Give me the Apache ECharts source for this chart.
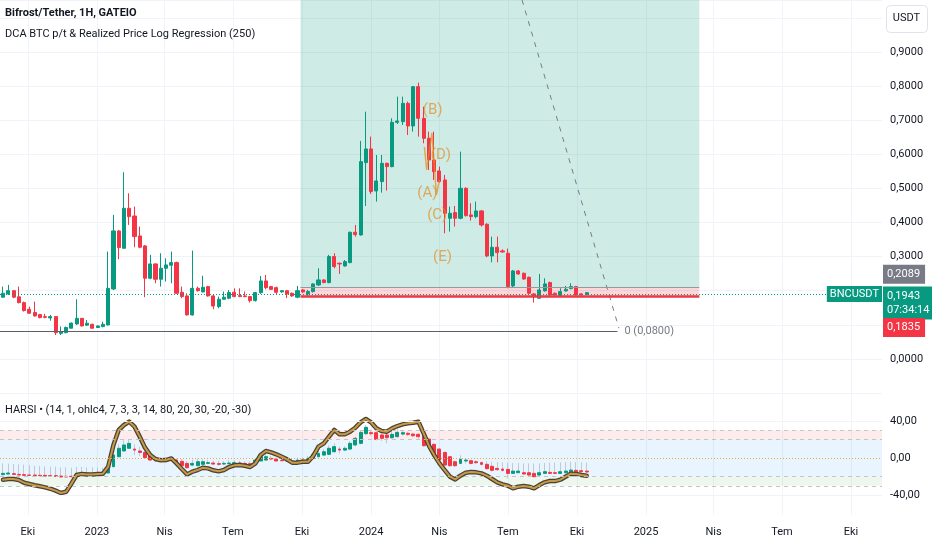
<!DOCTYPE html>
<html lang="tr">
<head>
    <meta charset="UTF-8">
    <title>Bifrost/Tether, 1H, GATEIO</title>
    <script src="https://cdn.jsdelivr.net/npm/echarts@6/dist/echarts.min.js"></script>
    <style>
        html, body { margin: 0; padding: 0; background: #ffffff; }
        #chart { width: 932px; height: 550px; }
    </style>
</head>
<body>
    <div id="chart"></div>

    <script>
        const FONT = "Roboto, 'Liberation Sans', sans-serif";
        const UP = '#089981';
        const DOWN = '#f23645';

        // weekly candles, the first week opens on Monday 2022-08-29
        const opens = [
            0.181, 0.1906, 0.200, 0.182, 0.165, 0.1456, 0.136, 0.130, 0.124, 0.120,
            0.124, 0.075, 0.077, 0.090, 0.1026, 0.119, 0.099, 0.1016, 0.092, 0.0948,
            0.0997, 0.205, 0.3753, 0.3244, 0.4417, 0.419, 0.3606, 0.3313, 0.2365, 0.2785,
            0.2336, 0.2658, 0.2746, 0.2824, 0.1954, 0.1847, 0.129, 0.207, 0.1964, 0.212,
            0.1847, 0.1534, 0.175, 0.178, 0.1954, 0.1857, 0.1847, 0.1827, 0.171, 0.1945,
            0.2287, 0.212, 0.209, 0.1964, 0.200, 0.1925, 0.181, 0.2023, 0.1906, 0.1974,
            0.2169, 0.2316, 0.2238, 0.300, 0.2805, 0.2726, 0.2824, 0.3713, 0.3635, 0.5756,
            0.6157, 0.4925, 0.5199, 0.5736, 0.5639, 0.6938, 0.6958, 0.7495, 0.6831, 0.7984,
            0.7056, 0.6469, 0.5834, 0.5512, 0.5248, 0.4124, 0.429, 0.4124, 0.5003, 0.4222,
            0.4173, 0.4339, 0.3948, 0.302, 0.3274, 0.3166, 0.3098, 0.214, 0.258, 0.2511,
            0.2394, 0.1906, 0.1779, 0.1994, 0.2238, 0.1925, 0.1847, 0.1994, 0.2062, 0.212,
            0.1906, 0.1896
        ];
        const highs = [
            0.212, 0.217, 0.202, 0.212, 0.168, 0.1534, 0.168, 0.132, 0.132, 0.129,
            0.124, 0.095, 0.095, 0.1065, 0.175, 0.119, 0.114, 0.103, 0.098, 0.109,
            0.3147, 0.4222, 0.3782, 0.5473, 0.4857, 0.4466, 0.388, 0.334, 0.305, 0.280,
            0.3098, 0.295, 0.3147, 0.2853, 0.212, 0.1925, 0.3176, 0.212, 0.244, 0.214,
            0.1876, 0.1827, 0.1974, 0.202, 0.207, 0.207, 0.1974, 0.1847, 0.1964, 0.243,
            0.246, 0.214, 0.212, 0.202, 0.202, 0.1945, 0.214, 0.205, 0.2023, 0.2218,
            0.2658, 0.2336, 0.305, 0.3098, 0.2824, 0.290, 0.3733, 0.3928, 0.6391, 0.7251,
            0.6518, 0.5981, 0.5981, 0.5756, 0.7056, 0.7691, 0.7691, 0.7544, 0.8004, 0.8102,
            0.7398, 0.6665, 0.6665, 0.5639, 0.5394, 0.4466, 0.4485, 0.6078, 0.5033, 0.4564,
            0.4613, 0.4368, 0.3977, 0.3586, 0.3586, 0.3215, 0.3235, 0.2609, 0.2609, 0.2531,
            0.2414, 0.1925, 0.2492, 0.2365, 0.2267, 0.1945, 0.2072, 0.214, 0.2218, 0.214,
            0.1925, 0.1945
        ];
        const lows = [
            0.180, 0.1876, 0.178, 0.163, 0.1388, 0.132, 0.124, 0.119, 0.119, 0.112,
            0.070, 0.070, 0.075, 0.090, 0.0997, 0.0948, 0.0967, 0.089, 0.091, 0.0928,
            0.0977, 0.202, 0.2922, 0.3244, 0.3929, 0.3274, 0.3244, 0.181, 0.2336, 0.2218,
            0.212, 0.2267, 0.2218, 0.1906, 0.178, 0.127, 0.127, 0.1974, 0.195, 0.1827,
            0.1456, 0.1485, 0.173, 0.175, 0.181, 0.181, 0.181, 0.1652, 0.168, 0.1906,
            0.204, 0.202, 0.1906, 0.1945, 0.178, 0.182, 0.178, 0.194, 0.1827, 0.1945,
            0.214, 0.222, 0.2218, 0.2658, 0.2492, 0.2707, 0.2805, 0.3586, 0.3616, 0.4485,
            0.4837, 0.4613, 0.4876, 0.4935, 0.5619, 0.6889, 0.686, 0.6567, 0.6665, 0.6518,
            0.6323, 0.5541, 0.5248, 0.5169, 0.3684, 0.3733, 0.388, 0.4095, 0.4173, 0.4055,
            0.4124, 0.388, 0.298, 0.2834, 0.2834, 0.3117, 0.2072, 0.2101, 0.2463, 0.2316,
            0.1876, 0.1652, 0.1779, 0.1974, 0.1847, 0.1857, 0.1827, 0.1974, 0.2042, 0.1847,
            0.1857, 0.1876
        ];
        const closes = [
            0.1925, 0.200, 0.181, 0.165, 0.1417, 0.134, 0.126, 0.121, 0.122, 0.124,
            0.077, 0.080, 0.092, 0.105, 0.119, 0.0967, 0.1046, 0.090, 0.0967, 0.1016,
            0.207, 0.3753, 0.3264, 0.4417, 0.4173, 0.3586, 0.3274, 0.2365, 0.2785, 0.2336,
            0.2658, 0.2756, 0.2824, 0.1925, 0.1827, 0.129, 0.207, 0.200, 0.210, 0.1847,
            0.155, 0.175, 0.181, 0.1945, 0.1827, 0.1827, 0.1827, 0.171, 0.1945, 0.2287,
            0.209, 0.204, 0.1954, 0.200, 0.1906, 0.1847, 0.200, 0.1964, 0.1974, 0.2199,
            0.2316, 0.2238, 0.300, 0.2707, 0.2785, 0.2853, 0.3713, 0.3645, 0.5785, 0.6157,
            0.4906, 0.5218, 0.5736, 0.5639, 0.6938, 0.6977, 0.7495, 0.6831, 0.7984, 0.7056,
            0.6469, 0.5834, 0.5492, 0.5199, 0.4271, 0.4271, 0.4124, 0.5003, 0.4202, 0.4173,
            0.4339, 0.3928, 0.302, 0.3274, 0.3117, 0.3137, 0.2121, 0.258, 0.2492, 0.2345,
            0.1925, 0.1827, 0.2023, 0.2199, 0.1876, 0.1876, 0.1974, 0.2042, 0.212, 0.1876,
            0.1876, 0.1943
        ];

        // HARSI pane (heikin ashi RSI candles + RSI line)
        const haOpen = [
            -18.0, -17.3, -16.9, -17.7, -18.0, -18.4, -18.4, -18.7, -18.7, -19.1,
            -19.1, -19.5, -19.8, -19.8, -18.4, -17.3, -16.9, -16.6, -17.3, -16.9,
            -16.2, -9.4, 1.4, 7.6, 10.5, 9.7, 7.6, 6.1, 2.5, -1.1,
            -2.9, -2.5, -1.1, -2.2, -3.6, -5.8, -7.6, -8.3, -6.8, -5.8,
            -5.4, -6.1, -6.5, -6.1, -6.8, -5.4, -5.8, -6.1, -6.1, -3.2,
            -2.2, -0.4, -1.1, -2.5, -2.9, -3.2, -5.0, -4.0, -3.2, -0.4,
            1.4, 3.2, 4.0, 6.8, 9.7, 8.6, 9.7, 14.1, 15.9, 26.3,
            27.4, 27.4, 24.9, 24.9, 22.0, 23.1, 25.9, 26.7, 25.9, 25.6,
            25.6, 20.5, 14.8, 9.7, 6.1, 1.4, -4.0, -5.8, -3.2, -2.9,
            -4.0, -5.0, -6.8, -9.0, -11.2, -11.9, -12.3, -16.6, -15.9, -15.9,
            -15.9, -16.6, -18.4, -16.6, -15.5, -15.9, -16.6, -15.9, -14.8, -13.3,
            -13.7, -14.1
        ];
        const haClose = [
            -16.6, -16.2, -17.7, -18.4, -18.7, -18.7, -19.1, -19.1, -19.5, -19.5,
            -19.8, -20.5, -20.5, -20.2, -16.6, -16.2, -16.2, -17.3, -16.6, -15.5,
            -9.4, 3.2, 10.5, 14.1, 15.9, 8.6, 6.1, 0.4, -2.2, -2.9,
            -1.8, -1.1, -2.2, -5.8, -8.3, -10.5, -5.8, -4.0, -4.0, -5.0,
            -6.5, -6.8, -5.8, -5.4, -5.0, -5.8, -7.6, -8.3, -2.2, 1.4,
            1.4, -1.1, -3.2, -2.9, -3.2, -4.0, -2.2, -2.2, -0.4, 4.0,
            5.0, 6.8, 10.5, 12.3, 8.6, 10.5, 15.9, 21.3, 27.7, 33.2,
            26.3, 20.2, 21.3, 22.0, 25.6, 27.7, 27.4, 25.6, 24.1, 23.1,
            13.3, 13.3, 4.0, -2.2, -7.6, -8.3, -8.3, -1.4, -2.2, -5.8,
            -5.0, -6.8, -11.5, -13.3, -12.6, -13.3, -16.6, -14.1, -14.1, -17.3,
            -18.4, -20.2, -15.9, -14.8, -16.6, -16.6, -14.8, -14.1, -13.0, -14.8,
            -14.8, -15.1
        ];
        const haHigh = [
            -5.8, -6.1, -6.5, -6.8, -7.2, -7.6, -8.3, -8.6, -9.0, -9.4,
            -9.4, -10.1, -10.1, -10.5, -9.7, -9.7, -10.1, -10.1, -10.5, -10.5,
            -4.0, 7.6, 14.8, 19.1, 19.5, 14.8, 12.3, 9.7, 5.0, 1.4,
            1.1, 0.4, 0.0, -0.4, -1.1, -3.2, -1.8, -0.7, -1.1, -2.2,
            -2.9, -2.9, -3.2, -2.2, -2.5, -2.9, -3.6, -3.6, -0.4, 3.6,
            4.3, 2.2, 0.7, 0.4, -0.4, -0.7, 0.4, 0.7, 2.2, 6.1,
            7.6, 9.7, 13.7, 15.9, 12.3, 12.6, 18.4, 23.1, 30.0, 35.7,
            30.6, 29.2, 26.7, 26.3, 28.5, 35.7, 30.3, 28.5, 27.4, 26.7,
            27.4, 21.3, 15.9, 10.5, 6.8, 2.2, -2.9, 3.2, -1.1, -1.8,
            -2.5, -3.6, -3.6, -4.0, -4.3, -4.7, -5.0, -5.4, -5.4, -5.8,
            -5.8, -6.1, -5.8, -5.4, -5.0, -5.0, -4.7, -4.3, -4.0, -4.3,
            -4.7, -5.0
        ];
        const haLow = [
            -18.0, -17.3, -17.7, -18.4, -18.7, -18.7, -19.1, -19.1, -19.5, -19.5,
            -19.8, -20.5, -20.5, -20.2, -18.4, -17.3, -16.9, -17.3, -17.3, -16.9,
            -16.2, -9.4, 1.4, 7.6, 10.5, 3.2, 2.2, -1.1, -2.9, -4.0,
            -4.0, -3.2, -3.2, -6.5, -9.0, -11.5, -9.0, -9.0, -8.3, -6.8,
            -7.6, -8.3, -7.2, -6.5, -7.2, -6.8, -8.3, -9.0, -6.8, -3.6,
            -2.5, -2.5, -3.6, -3.6, -4.0, -4.7, -5.4, -4.7, -3.6, -1.1,
            0.7, 2.5, 3.2, 5.8, 5.0, 7.6, 8.6, 12.6, 14.8, 25.2,
            24.1, 19.1, 18.4, 15.9, 20.5, 22.0, 24.5, 23.8, 22.0, 20.9,
            12.3, 10.8, 2.5, -3.6, -9.0, -9.7, -9.7, -6.8, -5.8, -7.2,
            -6.8, -8.3, -12.6, -14.8, -13.7, -14.8, -22.0, -16.9, -16.2, -18.0,
            -19.1, -20.9, -19.1, -17.3, -17.3, -17.3, -17.3, -16.6, -15.5, -15.5,
            -15.5, -15.9
        ];
        const rsi = [
            -23.4, -22.7, -22.7, -23.8, -26.7, -28.1, -29.5, -30.6, -31.7, -33.2,
            -35.3, -37.8, -36.4, -27.7, -18.4, -17.3, -17.7, -17.7, -17.3, -16.9,
            -9.4, 14.1, 30.3, 35.7, 39.3, 33.9, 23.1, 11.2, 3.2, -1.1,
            -2.5, -2.2, -0.4, -5.8, -11.9, -17.7, -14.8, -13.0, -10.5, -11.2,
            -13.3, -14.4, -13.0, -9.7, -7.9, -7.6, -8.3, -9.7, -5.8, 3.2,
            7.6, 6.1, 4.0, 1.4, -1.4, -5.0, -5.0, -4.0, -4.0, 2.2,
            12.3, 15.9, 23.1, 30.3, 25.6, 25.6, 28.5, 32.8, 38.6, 42.2,
            38.6, 32.1, 29.2, 28.5, 32.1, 34.6, 36.4, 37.5, 38.2, 39.3,
            26.7, 13.3, 3.2, -5.8, -13.0, -20.2, -23.1, -19.1, -15.9, -15.1,
            -15.5, -16.6, -19.1, -22.7, -26.3, -28.5, -29.9, -32.8, -31.0, -30.3,
            -31.0, -32.8, -29.2, -26.3, -24.9, -24.9, -23.4, -20.2, -16.9, -17.3,
            -18.4, -19.1
        ];

        // time axis
        const quarterTicks = [
            '2022-10-01', '2023-01-01', '2023-04-01', '2023-07-01', '2023-10-01', '2024-01-01', '2024-04-01',
            '2024-07-01', '2024-10-01', '2025-01-01', '2025-04-01', '2025-07-01', '2025-10-01'
        ];
        const quarterLabels = ['Eki', '2023', 'Nis', 'Tem', 'Eki', '2024', 'Nis', 'Tem', 'Eki', '2025', 'Nis', 'Tem', 'Eki'];
        const priceLabels = [0, 0.3, 0.4, 0.5, 0.6, 0.7, 0.8, 0.9];
        const harsiLabels = [-40, 0, 40];

        // drawings on the price pane
        const lastPrice = 0.1943;
        const targetPrice = 0.2089;
        const stopPrice = 0.1835;
        const regressionLevel = 0.08;
        const positionRange = ['2023-09-29', '2025-03-13'];
        const regressionEnd = '2024-11-24';
        const trendLine = [['2024-07-20', 1.0525], ['2024-11-26', 0.09]];
        const waveNames = ['(B)', '(D)', '(A)', '(C)', '(E)'];
        const waveDates = ['2024-03-23', '2024-04-03', '2024-03-16', '2024-03-29', '2024-04-05'];
        const waveValues = [0.730, 0.598, 0.487, 0.422, 0.299];
        const zigDates = ['2024-03-12', '2024-03-15', '2024-03-22', '2024-03-28', '2024-04-01'];
        const zigValues = [0.6215, 0.554, 0.6626, 0.4808, 0.5248];

        const day = s => {
            const [y, m, d] = s.split('-').map(Number);
            return new Date(y, m - 1, d).getTime();
        };
        const xMin = new Date(2022, 7, 24, 23).getTime();
        const xMax = new Date(2025, 10, 11, 5).getTime();
        const weekTimes = opens.map((_, i) => new Date(2022, 7, 29 + 7 * i).getTime());
        const tickTimes = quarterTicks.map(day);
        const comma = (v, n) => v.toFixed(n).replace('.', ',');

        const candles = opens.map((o, i) => [weekTimes[i], o, closes[i], lows[i], highs[i]]);
        const haBodies = haOpen.map((o, i) => [weekTimes[i], o, haClose[i], Math.min(o, haClose[i]), Math.max(o, haClose[i])]);
        const haWicks = haLow.map((l, i) => [weekTimes[i], l, l, l, haHigh[i]]);
        const rsiLine = rsi.map((v, i) => [weekTimes[i], v]);

        const chart = echarts.init(document.getElementById('chart'));

        // timestamps on a plain value axis, so the quarter ticks can be placed exactly
        const xAxisBase = (gridIndex, showLabels) => ({
            type: 'value',
            gridIndex: gridIndex,
            min: xMin,
            max: xMax,
            axisLine: { show: false },
            axisTick: { show: false, customValues: tickTimes },
            splitLine: { show: true, lineStyle: { color: '#f0f3fa' } },
            axisLabel: {
                show: showLabels,
                customValues: tickTimes,
                formatter: v => {
                    const k = tickTimes.indexOf(v);
                    return k >= 0 ? quarterLabels[k] : '';
                },
                color: '#131722',
                fontSize: 11,
                fontFamily: FONT,
                margin: 12
            }
        });

        const tag = (value, text, bg, offsetY) => ({
            yAxis: value,
            lineStyle: { color: 'rgba(0,0,0,0)', width: 0 },
            label: {
                show: true,
                position: 'end',
                distance: 1,
                offset: [0, offsetY],
                formatter: text,
                color: '#ffffff',
                backgroundColor: bg,
                padding: [3, 5, 2, 4],
                fontSize: 11,
                lineHeight: 14,
                fontFamily: FONT
            }
        });

        const option = {
            animation: false,
            backgroundColor: '#ffffff',
            title: [
                { text: 'Bifrost/Tether, 1H, GATEIO', left: 5, top: 8, padding: 0,
                  textStyle: { fontSize: 11, fontWeight: 'bold', color: '#131722', fontFamily: FONT } },
                { text: 'DCA BTC p/t & Realized Price Log Regression (250)', left: 5, top: 29, padding: 0,
                  textStyle: { fontSize: 11, fontWeight: 'normal', color: '#131722', fontFamily: FONT } },
                { text: 'HARSI • (14, 1, ohlc4, 7, 3, 3, 14, 80, 20, 30, -20, -30)', left: 5, top: 405, padding: 0,
                  textStyle: { fontSize: 11, fontWeight: 'normal', color: '#131722', fontFamily: FONT } }
            ],
            graphic: [
                { type: 'rect', left: 886, top: 5, shape: { width: 41, height: 27, r: 4 },
                  style: { fill: '#ffffff', stroke: '#e0e3eb', lineWidth: 1 } },
                { type: 'text', x: 906.5, y: 18.5,
                  style: { text: 'USDT', fill: '#131722', font: '11px ' + FONT, align: 'center', verticalAlign: 'middle' } }
            ],
            grid: [
                { left: 0, right: 50, top: 0, height: 393 },
                { left: 0, right: 50, top: 393, height: 122 }
            ],
            xAxis: [xAxisBase(0, false), xAxisBase(1, true)],
            yAxis: [
                {
                    type: 'value', gridIndex: 0, position: 'right',
                    min: -0.1, max: 1.0525, interval: 0.1,
                    axisLine: { show: false }, axisTick: { show: false },
                    splitLine: { show: true, lineStyle: { color: '#f0f3fa' } },
                    axisLabel: {
                        customValues: priceLabels,
                        formatter: v => comma(v, 4),
                        color: '#131722', fontSize: 11, fontFamily: FONT, margin: 8
                    }
                },
                {
                    type: 'value', gridIndex: 1, position: 'right',
                    min: -61.6, max: 70.3,
                    axisLine: { show: false }, axisTick: { show: false },
                    splitLine: { show: false },
                    axisLabel: {
                        customValues: harsiLabels,
                        formatter: v => comma(v, 2),
                        color: '#131722', fontSize: 11, fontFamily: FONT, margin: 8
                    }
                }
            ],
            series: [
                // long position box + regression level
                {
                    name: 'drawings', type: 'line', xAxisIndex: 0, yAxisIndex: 0, data: [], z: 1,
                    markArea: {
                        silent: true,
                        data: [
                            [{ coord: [day(positionRange[0]), targetPrice], itemStyle: { color: 'rgba(8,153,129,0.2)' } },
                             { coord: [day(positionRange[1]), 1.0525] }],
                            [{ coord: [day(positionRange[0]), stopPrice], itemStyle: { color: 'rgba(242,54,69,0.2)' } },
                             { coord: [day(positionRange[1]), targetPrice] }]
                        ]
                    },
                    markLine: {
                        silent: true, symbol: ['none', 'none'],
                        data: [
                            [{ coord: [day(positionRange[0]), targetPrice], lineStyle: { color: '#9598a1', width: 1, type: 'solid' }, label: { show: false } },
                             { coord: [day(positionRange[1]), targetPrice] }],
                            [{ coord: [day(positionRange[0]), stopPrice], lineStyle: { color: DOWN, width: 2.5, type: 'solid' }, label: { show: false } },
                             { coord: [day(positionRange[1]), stopPrice] }],
                            [{ coord: [xMin, regressionLevel], lineStyle: { color: '#5d606b', width: 1, type: 'solid' },
                               label: { show: true, position: 'end', distance: 7, formatter: '0 (0,0800)', color: '#787b86', fontSize: 11, fontFamily: FONT } },
                             { coord: [day(regressionEnd), regressionLevel] }]
                        ]
                    }
                },
                {
                    name: 'trend', type: 'line', xAxisIndex: 0, yAxisIndex: 0, z: 2,
                    data: trendLine.map(p => [day(p[0]), p[1]]),
                    symbol: 'none', silent: true,
                    lineStyle: { color: '#787b86', width: 1, type: [5, 6] }
                },
                {
                    name: 'BNCUSDT', type: 'candlestick', xAxisIndex: 0, yAxisIndex: 0, z: 3,
                    data: candles,
                    encode: { x: 0, y: [1, 2, 3, 4] },
                    barWidth: 3.6,
                    itemStyle: { color: UP, color0: DOWN, borderColor: UP, borderColor0: DOWN, borderWidth: 1 },
                    markLine: {
                        silent: true, symbol: ['none', 'none'],
                        data: [
                            { yAxis: lastPrice, lineStyle: { color: UP, width: 1, type: [1, 2] },
                              label: { show: true, position: 'insideEnd', distance: 0, formatter: 'BNCUSDT',
                                       color: '#ffffff', backgroundColor: UP, padding: [3, 3, 2, 3],
                                       fontSize: 11, fontFamily: FONT } },
                            tag(targetPrice, '0,2089', '#787b86', -13),
                            tag(lastPrice, '0,1943\n07:34:14', UP, 9),
                            tag(stopPrice, '0,1835', DOWN, 30)
                        ]
                    }
                },
                {
                    name: 'wave', type: 'line', xAxisIndex: 0, yAxisIndex: 0, z: 4,
                    data: zigDates.map((d, i) => [day(d), zigValues[i]]),
                    symbol: 'none', silent: true,
                    lineStyle: { color: 'rgba(230,140,30,0.7)', width: 1.5 }
                },
                {
                    name: 'wave labels', type: 'scatter', xAxisIndex: 0, yAxisIndex: 0, z: 5,
                    data: waveNames.map((n, i) => [day(waveDates[i]), waveValues[i], n]),
                    symbolSize: 0, silent: true,
                    label: {
                        show: true, position: 'inside', formatter: p => p.data[2],
                        color: 'rgba(228,138,30,0.85)', fontSize: 15, fontFamily: FONT
                    }
                },
                // HARSI bands and levels
                {
                    name: 'harsi levels', type: 'line', xAxisIndex: 1, yAxisIndex: 1, data: [], z: 1,
                    markArea: {
                        silent: true,
                        data: [
                            [{ yAxis: 20, itemStyle: { color: 'rgba(242,54,69,0.1)' } }, { yAxis: 30 }],
                            [{ yAxis: -20, itemStyle: { color: 'rgba(33,150,243,0.1)' } }, { yAxis: 20 }],
                            [{ yAxis: -30, itemStyle: { color: 'rgba(76,175,80,0.1)' } }, { yAxis: -20 }]
                        ]
                    },
                    markLine: {
                        silent: true, symbol: ['none', 'none'], label: { show: false },
                        data: [
                            { yAxis: 40, lineStyle: { color: '#f0f3fa', width: 1, type: 'solid' } },
                            { yAxis: -40, lineStyle: { color: '#f0f3fa', width: 1, type: 'solid' } },
                            { yAxis: 30, lineStyle: { color: '#c3c5cc', width: 1, type: [4, 4] } },
                            { yAxis: 20, lineStyle: { color: '#c3c5cc', width: 1, type: [4, 4] } },
                            { yAxis: -20, lineStyle: { color: '#c3c5cc', width: 1, type: [4, 4] } },
                            { yAxis: -30, lineStyle: { color: '#c3c5cc', width: 1, type: [4, 4] } },
                            { yAxis: 0, lineStyle: { color: '#f0a830', width: 1, type: [1, 2] } }
                        ]
                    }
                },
                {
                    name: 'HA wick', type: 'candlestick', xAxisIndex: 1, yAxisIndex: 1, z: 2,
                    data: haWicks, encode: { x: 0, y: [1, 2, 3, 4] },
                    barWidth: 1, silent: true,
                    itemStyle: { color: 'rgba(120,123,134,0.35)', color0: 'rgba(120,123,134,0.35)',
                                 borderColor: 'rgba(120,123,134,0.35)', borderColor0: 'rgba(120,123,134,0.35)', borderWidth: 1 }
                },
                {
                    name: 'HA RSI', type: 'candlestick', xAxisIndex: 1, yAxisIndex: 1, z: 3,
                    data: haBodies, encode: { x: 0, y: [1, 2, 3, 4] },
                    barWidth: 3.4,
                    itemStyle: { color: UP, color0: DOWN, borderColor: UP, borderColor0: DOWN, borderWidth: 1 }
                },
                {
                    name: 'RSI shadow', type: 'line', xAxisIndex: 1, yAxisIndex: 1, z: 4,
                    data: rsiLine, symbol: 'none', silent: true,
                    lineStyle: { color: '#4a4234', width: 4.5, join: 'round', cap: 'round' }
                },
                {
                    name: 'RSI', type: 'line', xAxisIndex: 1, yAxisIndex: 1, z: 5,
                    data: rsiLine, symbol: 'none', silent: true,
                    lineStyle: { color: '#c89a48', width: 2, join: 'round', cap: 'round' }
                }
            ]
        };

        chart.setOption(option);
    </script>
</body>
</html>
